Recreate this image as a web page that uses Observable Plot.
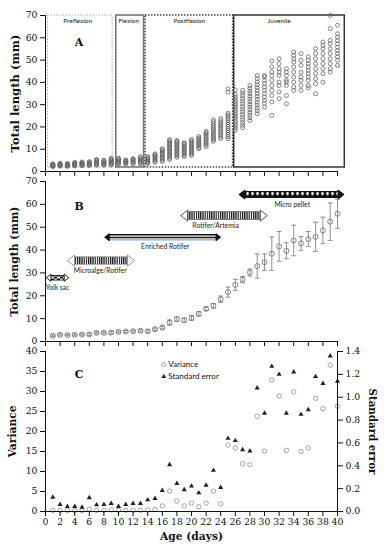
<!DOCTYPE html>
<html><head><meta charset="utf-8">
<script src="https://cdn.jsdelivr.net/npm/d3@7"></script>
<script src="https://cdn.jsdelivr.net/npm/@observablehq/plot@0.6"></script>
<style>
body{margin:0;background:#fff;}
#chart{position:relative;width:384px;height:550px;overflow:hidden;background:#fff;}
#chart > svg{position:absolute;left:0;}
</style></head><body><div id="chart"></div>
<script>
// ---------------- DATA ----------------
const days = d3.range(1, 41);
const xTicks = d3.range(0, 41, 2);
const lengthTicks = d3.range(0, 71, 10);
const varTicks = d3.range(0, 41, 5);
const seTicks = [0, 0.2, 0.4, 0.6, 0.8, 1.0, 1.2, 1.4];

// Panel A: individual total lengths (mm) per day
const lengthsA = [
  [2.2,2.4,2.6,2.7,2.8,2.9,3.0,3.2,3.4],
  [2.4,2.6,2.8,3.0,3.1,3.3,3.5,3.7],
  [2.3,2.5,2.7,2.9,3.0,3.2,3.4,3.6],
  [2.5,2.7,2.9,3.1,3.3,3.5,3.8,4.1],
  [2.6,2.8,3.0,3.2,3.4,3.7,4.0,4.3],
  [2.7,2.9,3.1,3.3,3.6,3.9,4.2,4.4],
  [2.8,3.1,3.4,3.7,4.0,4.3,4.7,5.1,5.4],
  [2.8,3.1,3.4,3.7,4.0,4.4,4.8,5.1],
  [2.9,3.2,3.6,4.0,4.4,4.8,5.2,5.6,5.9],
  [3.3,3.6,4.0,4.4,4.8,5.2,5.6,6.0],
  [3.4,3.7,4.0,4.3,4.6,4.9,5.2],
  [3.4,3.8,4.2,4.6,5.0,5.4,5.8],
  [3.5,3.9,4.3,4.7,5.2,5.7,6.2,6.6],
  [3.6,4.0,4.4,4.8,5.3,5.8,6.3,6.7],
  [4.2,4.6,5.1,5.6,6.1,6.6,7.1,7.5,7.9],
  [4.5,5.1,5.7,6.3,6.9,7.5,8.1,8.7,9.3,9.8,10.2],
  [5.4,6.0,6.6,7.2,7.8,8.4,9.0,9.6,10.2,10.8,11.4,12.0,12.6,13.2,13.8,14.3],
  [6.4,7.0,7.6,8.2,8.8,9.4,10.0,10.6,11.2,11.8,12.4,13.0,13.6,13.9],
  [6.7,7.3,7.9,8.5,9.1,9.7,10.3,10.9,11.5,12.1,12.6,12.9],
  [7.2,7.8,8.4,9.0,9.6,10.2,10.8,11.4,12.0,12.6,13.2,13.8,14.4],
  [10.2,10.8,11.4,12.0,12.6,13.2,13.8,14.4,15.0,15.7],
  [11.2,11.9,12.6,13.3,14.0,14.7,15.4,16.1,16.8,17.4,18.0],
  [13.5,14.2,14.9,15.6,16.3,17.0,17.7,18.4,19.1,19.8,20.6,21.5,22.4,23.2],
  [14.8,15.6,16.4,17.2,18.0,18.8,19.6,20.4,21.2,22.0,22.8,23.8],
  [14.7,15.6,16.5,17.4,18.3,19.2,20.1,21.0,21.9,22.8,23.7,24.6,25.4,26.2,35.6,37.1],
  [18.4,19.4,20.4,21.4,22.4,23.4,24.4,25.4,26.4,27.4,28.4,29.4,30.4,31.4,32.4,33.4,34.6,36.6],
  [19.6,20.8,22.0,23.2,24.4,25.6,26.8,28.0,29.2,30.4,31.6,32.8,34.0,35.2,36.4],
  [22.9,24.1,25.3,26.5,27.7,28.9,30.1,31.3,32.5,33.7,34.9,36.1,37.3,38.6],
  [25.9,27.2,28.5,29.8,31.1,32.4,33.7,35.0,36.3,37.6,38.9,40.2,41.6,43.1],
  [28.9,30.6,32.0,33.4,34.9,36.4,37.9,39.4,40.9,42.4,43.1],
  [25.2,31.2,34.1,36.4,38.6,40.9,43.1,44.6,46.9,49.6],
  [32.7,35.7,38.6,40.1,43.1,44.6,46.1,48.4,50.6],
  [30.4,34.1,38.6,40.1,40.9,43.1,44.6,46.1],
  [36.4,37.9,40.1,42.4,44.6,46.9,49.1,50.6,52.1,53.6],
  [36.4,38.6,40.9,42.4,44.6,47.6,49.9,52.9],
  [37.5,38.6,40.9,42.4,43.9,45.4,46.9,48.4,49.9,51.4],
  [34.9,39.4,41.6,43.9,46.1,48.4,50.6,52.9,55.1],
  [40.1,43.9,46.1,48.4,50.6,52.9,55.1,56.6,58.1],
  [44.6,46.1,48.4,50.6,52.9,55.1,57.3,58.8,64.1,70.0],
  [47.6,49.9,51.4,52.9,54.3,55.8,57.3,58.8,60.3,61.8,65.6]
];

// Developmental stages (panel A)
const stageNames = ["Preflexion", "Flexion", "Postflexion", "Juvenile"];
const stageStart = [0.35, 9.7, 13.7, 25.85];
const stageEnd = [9.2, 13.5, 25.7, 41.0];
const stageLabelX = [4.4, 11.4, 19.7, 32.0];
const stageLow = 1.8, stageHigh = 70;

// Panel B: mean total length and error
const meanB = [2.5,2.9,2.8,2.9,3.0,3.1,3.8,3.8,3.9,4.2,4.4,4.5,4.7,4.5,5.4,6.1,8.3,9.8,9.3,10.3,
               12.1,14.3,15.6,18.5,21.6,24.8,27.1,30.2,33.0,34.7,38.4,41.6,39.7,44.2,42.9,44.8,45.8,48.6,52.4,55.9];
const errB = [0.3,0.4,0.3,0.4,0.3,0.5,0.4,0.4,0.5,0.4,0.4,0.4,0.5,0.5,0.5,0.6,1.1,0.9,0.9,1.0,
              1.0,0.8,1.0,1.4,2.2,2.4,1.4,1.6,5.3,3.6,7.3,6.5,3.5,6.7,3.0,3.3,6.4,5.8,8.2,6.4];

// Feeding regimes (panel B)
const feedNames = ["Yolk sac", "Microalge/Rotifer", "Enriched Rotifer", "Rotifer/Artemia", "Micro pellet"];
const feedStart = [0.1, 3.0, 8.1, 18.5, 26.5];
const feedEnd = [3.2, 12.2, 24.0, 30.4, 40.9];
const feedLevel = [27.9, 35.4, 45.6, 55.1, 64.3];
const feedLabelX = [1.65, 7.5, 16.4, 23.3, 33.8];

// Panel C: variance and standard error
const varianceC = [0.25,0.3,0.2,0.2,0.2,0.6,0.3,0.3,0.4,0.3,0.3,0.3,0.3,0.4,0.5,1.4,5.1,2.6,1.4,2.1,
                   1.2,2.1,5.1,1.9,16.6,15.9,11.9,11.7,23.8,15.1,32.9,28.9,15.3,29.9,15.0,15.9,28.3,25.7,36.6,26.3];
const seC = [0.125,0.061,0.044,0.044,0.038,0.12,0.058,0.061,0.07,0.044,0.061,0.07,0.07,0.102,0.114,0.184,0.409,0.245,0.19,0.222,
             0.163,0.23,0.36,0.21,0.64,0.62,0.54,0.53,1.08,0.86,1.27,1.20,0.86,1.22,0.85,0.89,1.18,1.12,1.36,1.14];
const legendNames = ["Variance", "Standard error"];

// ---------------- RENDER ----------------
const chart = document.getElementById("chart");
const W = 384;
const serif = "'DejaVu Serif', serif";
const sans = "Lato, 'Liberation Sans', sans-serif";
const baseStyle = {fontFamily: serif, fontSize: "9.3px", color: "#111", background: "none", overflow: "visible"};
function place(svg, top) { svg.style.top = top + "px"; chart.appendChild(svg); return svg; }
// scale a bold axis title so that its rendered length matches the reference length (px)
function fitText(svg, content, target) {
  svg.querySelectorAll("text").forEach(t => {
    const cs = getComputedStyle(t);
    if (t.textContent === content && (cs.fontWeight === "bold" || +cs.fontWeight >= 600)) {
      const len = t.getComputedTextLength();
      const fs = parseFloat(cs.fontSize);
      if (len > 0) t.style.fontSize = (fs * target / len).toFixed(2) + "px";
    }
  });
}

// custom symbols
const capSymbol = {draw(ctx, size) { const r = Math.sqrt(size / Math.PI); ctx.moveTo(-r, 0); ctx.lineTo(r, 0); }};
const headRight = {draw(ctx, size) { const r = Math.sqrt(size / Math.PI); ctx.moveTo(r, 0); ctx.lineTo(-0.3 * r, -r); ctx.lineTo(-0.3 * r, r); ctx.closePath(); }};
const headLeft = {draw(ctx, size) { const r = Math.sqrt(size / Math.PI); ctx.moveTo(-r, 0); ctx.lineTo(0.3 * r, -r); ctx.lineTo(0.3 * r, r); ctx.closePath(); }};

// ---- Panel A ----
const ptsA = lengthsA.flatMap((arr, i) => arr.map(v => ({day: days[i], len: v})));
const stages = stageNames.map((name, i) => ({name, x1: stageStart[i], x2: stageEnd[i], lx: stageLabelX[i]}));
const stageStroke = ["#aaa", "#777", "#444", "#333"];
const stageDash = ["1.5,1.5", "none", "1.5,1.5", "none"];
const stageWidth = [1, 1.6, 1.5, 1.5];

const svgA = Plot.plot({
  width: W, height: 180, marginTop: 15, marginBottom: 9, marginLeft: 45, marginRight: 47,
  x: {domain: [0, 40]}, y: {domain: [0, 70]},
  style: baseStyle,
  marks: [
    ...stages.map((s, i) => Plot.rect([s], {x1: "x1", x2: "x2", y1: stageLow, y2: stageHigh, fill: "none",
      stroke: stageStroke[i], strokeWidth: stageWidth[i], strokeDasharray: stageDash[i]})),
    Plot.text(stages, {x: "lx", y: 67.5, text: "name", fontFamily: sans, fontSize: 6.5, fill: "#222"}),
    Plot.text(["A"], {x: 4.6, y: 58, text: d => d, fontWeight: "bold", fontSize: 11, fontFamily: serif}),
    Plot.dot(ptsA, {x: "day", y: "len", r: 2, stroke: "#666", strokeWidth: 0.8}),
    Plot.axisY({ticks: lengthTicks, tickSize: 5, tickPadding: 3, label: null}),
    Plot.axisX({ticks: xTicks, tickSize: 5, tickFormat: () => "", label: null}),
    Plot.ruleX([0], {stroke: "#111"}),
    Plot.ruleY([0], {stroke: "#111"}),
    Plot.text(["Total length (mm)"], {x: 0, y: 35, dx: -30, rotate: -90, textAnchor: "middle", text: d => d, fontWeight: "bold", fontSize: 11, fontFamily: serif})
  ]
});
place(svgA, 0);
fitText(svgA, "Total length (mm)", 118);

// ---- Panel B ----
const dataB = days.map((d, i) => ({day: d, m: meanB[i], e: errB[i]}));
const feeds = feedNames.map((name, i) => ({name, s: feedStart[i], e: feedEnd[i], y: feedLevel[i], lx: feedLabelX[i]}));
const arrowStyle = [
  {outline: "#111", ow: 5.5, fill: "url(#pChecker)", fw: 3.8, head: 3.6, headFill: "#fff", headStroke: "#111"},
  {outline: "#999", ow: 8.5, fill: "url(#pStripes)", fw: 7, head: 5.5, headFill: "#fff", headStroke: "#888"},
  {lines: true, head: 3.6, headFill: "#111", headStroke: "#111"},
  {outline: "#555", ow: 8.5, fill: "url(#pStripes)", fw: 7, head: 5.5, headFill: "#fff", headStroke: "#444"},
  {outline: "#111", ow: 7, fill: "url(#pDiamond)", fw: 5.2, head: 4.6, headFill: "#111", headStroke: "#111"}
];
const arrowMarks = feeds.flatMap((f, i) => {
  const st = arrowStyle[i];
  const inset = st.head * 1.3 - 0.8;
  const m = [];
  if (st.lines) {
    m.push(Plot.ruleY([f], {x1: "s", x2: "e", y: "y", dy: -2.6, stroke: "#111", strokeWidth: 1.5, insetLeft: inset, insetRight: inset}));
    m.push(Plot.ruleY([f], {x1: "s", x2: "e", y: "y", dy: 0.2, stroke: "#111", strokeWidth: 1.5, insetLeft: inset, insetRight: inset}));
    m.push(Plot.ruleY([f], {x1: "s", x2: "e", y: "y", dy: 2.6, stroke: "#5b8fd0", strokeWidth: 1, insetLeft: inset, insetRight: inset}));
  } else {
    m.push(Plot.ruleY([f], {x1: "s", x2: "e", y: "y", stroke: st.outline, strokeWidth: st.ow, insetLeft: inset, insetRight: inset}));
    m.push(Plot.ruleY([f], {x1: "s", x2: "e", y: "y", stroke: st.fill, strokeWidth: st.fw, insetLeft: inset, insetRight: inset}));
  }
  m.push(Plot.dot([f], {x: "s", y: "y", symbol: headLeft, r: st.head, dx: st.head, fill: st.headFill, stroke: st.headStroke, strokeWidth: 0.9}));
  m.push(Plot.dot([f], {x: "e", y: "y", symbol: headRight, r: st.head, dx: -st.head, fill: st.headFill, stroke: st.headStroke, strokeWidth: 0.9}));
  return m;
});

const svgB = Plot.plot({
  width: W, height: 178, marginTop: 9, marginBottom: 9, marginLeft: 45, marginRight: 47,
  x: {domain: [0, 40]}, y: {domain: [0, 70]},
  style: baseStyle,
  marks: [
    ...arrowMarks,
    Plot.text(feeds, {x: "lx", y: "y", dy: 10, text: "name", fontFamily: sans, fontSize: 6.8, fill: "#222"}),
    Plot.text(["B"], {x: 4.6, y: 59, text: d => d, fontWeight: "bold", fontSize: 11, fontFamily: serif}),
    Plot.ruleX(dataB, {x: "day", y1: d => d.m - d.e, y2: d => d.m + d.e, stroke: "#777", strokeWidth: 0.8}),
    Plot.dot(dataB, {x: "day", y: d => d.m + d.e, symbol: capSymbol, r: 2.5, stroke: "#777", strokeWidth: 0.8}),
    Plot.dot(dataB, {x: "day", y: d => d.m - d.e, symbol: capSymbol, r: 2.5, stroke: "#777", strokeWidth: 0.8}),
    Plot.dot(dataB, {x: "day", y: "m", r: 2.5, stroke: "#777", strokeWidth: 0.9}),
    Plot.axisY({ticks: lengthTicks, tickSize: 5, tickPadding: 3, label: null}),
    Plot.axisX({ticks: xTicks, tickSize: 5, tickFormat: () => "", label: null}),
    Plot.ruleX([0], {stroke: "#111"}),
    Plot.ruleY([0], {stroke: "#111"}),
    Plot.text(["Total length (mm)"], {x: 0, y: 35, dx: -31, rotate: -90, textAnchor: "middle", text: d => d, fontWeight: "bold", fontSize: 11, fontFamily: serif})
  ]
});
// patterns for the feeding arrows
const defs = document.createElementNS("http://www.w3.org/2000/svg", "defs");
defs.innerHTML =
  '<pattern id="pStripes" patternUnits="userSpaceOnUse" width="2.2" height="12">' +
  '<rect width="2.2" height="12" fill="#fff"/><rect width="1.2" height="12" fill="#111"/></pattern>' +
  '<pattern id="pChecker" patternUnits="userSpaceOnUse" width="6" height="4">' +
  '<rect width="6" height="4" fill="#fff"/><rect width="3" height="2" fill="#111"/><rect x="3" y="2" width="3" height="2" fill="#111"/></pattern>' +
  '<pattern id="pDiamond" patternUnits="userSpaceOnUse" width="5" height="6">' +
  '<rect width="5" height="6" fill="#111"/><path d="M2.5 1 L4.2 3 L2.5 5 L0.8 3Z" fill="#fff"/></pattern>';
svgB.insertBefore(defs, svgB.firstChild);
place(svgB, 172);
fitText(svgB, "Total length (mm)", 110);

// ---- Panel C ----
const k = 40 / 1.4;
const dataC = days.map((d, i) => ({day: d, v: varianceC[i], se: seC[i]}));
const legend = legendNames.map((name, i) => ({name, i}));
const svgC = Plot.plot({
  width: W, height: 205, marginTop: 6, marginBottom: 39, marginLeft: 45, marginRight: 47,
  x: {domain: [0, 40]}, y: {domain: [0, 40]},
  style: baseStyle,
  marks: [
    Plot.dot(dataC, {x: "day", y: "v", r: 2.2, stroke: "#999", strokeWidth: 0.9}),
    Plot.dot(dataC, {x: "day", y: d => d.se * k, symbol: "triangle", r: 1.9, fill: "#222"}),
    Plot.dot([legend[0]], {x: 16.2, y: 36.75, r: 2, stroke: "#999", strokeWidth: 0.9}),
    Plot.dot([legend[1]], {x: 16.2, y: 33.75, symbol: "triangle", r: 1.8, fill: "#222"}),
    Plot.text(legend, {x: 16.2, y: d => d.i === 0 ? 36.75 : 33.75, dx: 4.5, text: "name", textAnchor: "start", fontFamily: sans, fontSize: 8, fill: "#111"}),
    Plot.text(["C"], {x: 4.6, y: 34.3, text: d => d, fontWeight: "bold", fontSize: 11, fontFamily: serif}),
    Plot.axisY({ticks: varTicks, tickSize: 5, tickPadding: 3, label: null}),
    Plot.axisY({anchor: "right", ticks: seTicks.map(t => t * k), tickFormat: d => (d / k).toFixed(1), tickSize: 5, tickPadding: 3, label: null}),
    Plot.axisX({ticks: xTicks, tickSize: 5, tickPadding: 2, label: null}),
    Plot.ruleX([0], {stroke: "#111"}),
    Plot.ruleX([40], {stroke: "#111"}),
    Plot.ruleY([0], {stroke: "#111"}),
    Plot.text(["Variance"], {frameAnchor: "left", dx: -33, rotate: -90, textAnchor: "middle", lineAnchor: "middle", text: d => d, fontWeight: "bold", fontSize: 11, fontFamily: serif}),
    Plot.text(["Standard error"], {frameAnchor: "right", dx: 35, rotate: 90, textAnchor: "middle", lineAnchor: "middle", text: d => d, fontWeight: "bold", fontSize: 11, fontFamily: serif}),
    Plot.text(["Age (days)"], {frameAnchor: "bottom", dy: 25, textAnchor: "middle", lineAnchor: "middle", text: d => d, fontWeight: "bold", fontSize: 11, fontFamily: serif})
  ]
});
place(svgC, 345);
fitText(svgC, "Variance", 52);
fitText(svgC, "Standard error", 86);
fitText(svgC, "Age (days)", 63);
</script></body></html>
